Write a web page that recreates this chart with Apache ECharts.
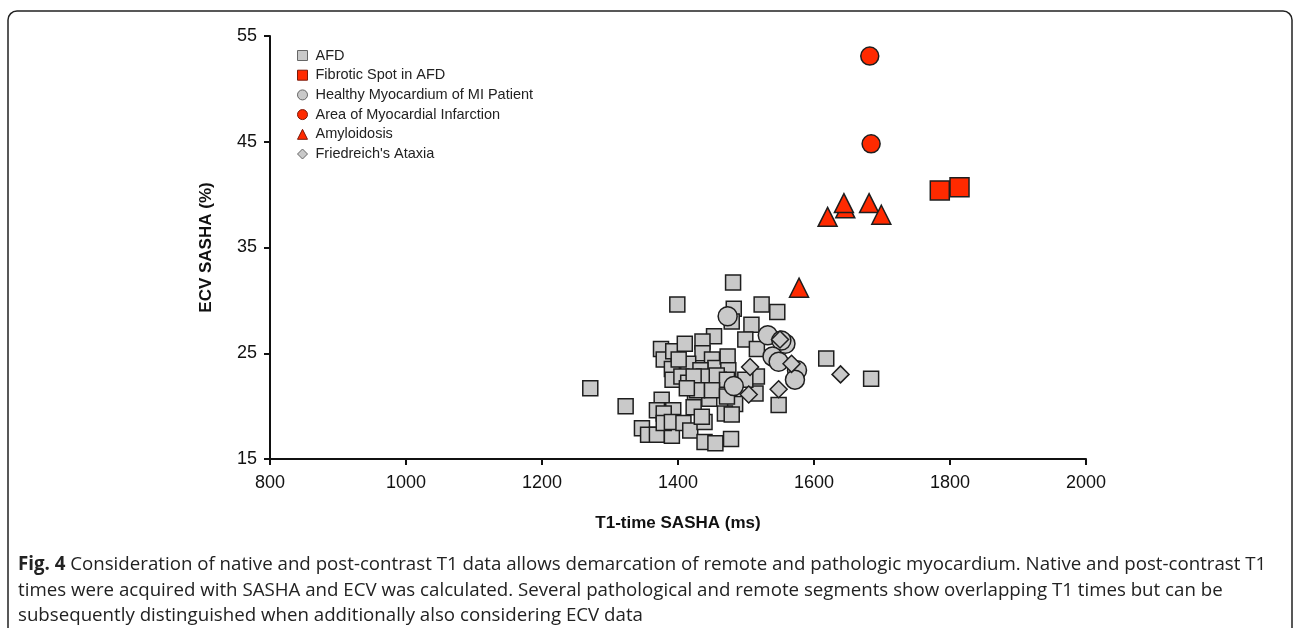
<!DOCTYPE html>
<html><head><meta charset="utf-8">
<script src="https://cdn.jsdelivr.net/npm/echarts@6/dist/echarts.min.js"></script>
<style>html,body{margin:0;padding:0;background:#fff}#c{width:1293px;height:628px}</style>
</head><body><div id="c"></div>
<script>
// ---- data (T1 ms, ECV %) ----
const afd = [
 [1481,31.7],[1399,29.6],[1482,29.2],[1523,29.6],[1546,28.9],[1479,28.0],[1508,27.7],
 [1453,26.6],[1499,26.3],[1516,25.4],[1618,24.5],[1684,22.6],[1516,22.8],[1514,21.2],
 [1271,21.7],[1323,20.0],[1548,20.1],[1375,25.4],[1379,24.4],[1393,25.2],[1410,25.9],
 [1436,26.1],[1436,25.0],[1415,24.0],[1391,23.5],[1392,22.5],[1405,22.8],[1415,22.2],
 [1450,24.4],[1455,23.6],[1473,24.7],[1474,23.4],[1445,22.2],[1425,21.1],[1446,20.7],
 [1423,19.9],[1460,22.5],[1484,20.2],[1469,19.3],[1479,19.2],[1376,20.6],[1369,19.6],
 [1393,19.6],[1379,19.3],[1347,17.9],[1356,17.3],[1369,17.3],[1391,17.2],[1379,18.4],
 [1391,18.5],[1408,18.4],[1418,17.7],[1439,18.5],[1435,19.0],[1439,16.6],[1455,16.5],
 [1478,16.9],[1401,24.4],[1433,23.4],[1438,22.8],[1423,22.8],[1457,22.9],[1472,22.5],
 [1428,21.5],[1413,21.7],[1450,21.5],[1499,22.5],[1472,20.9]
];
const fibroticSpot = [[1785,40.4],[1814,40.7]];
const healthyMI = [[1473,28.5],[1532,26.7],[1558,25.9],[1552,26.2],[1539,24.7],[1548,24.2],[1575,23.4],[1572,22.5],[1482,21.9]];
const infarction = [[1682,53.1],[1684,44.8]];
const amyloidosis = [[1646,38.7],[1644,39.2],[1620,37.9],[1681,39.2],[1699,38.1],[1578,31.2]];
const friedreich = [[1550,26.3],[1506,23.7],[1567,24.0],[1548,21.6],[1504,21.1],[1639,23.0]];
const seriesNames = ['AFD','Fibrotic Spot in AFD','Healthy Myocardium of MI Patient','Area of Myocardial Infarction','Amyloidosis',"Friedreich's Ataxia"];
const xTicks = [800,1000,1200,1400,1600,1800,2000];
const yTicks = [15,25,35,45,55];
const captionLines = [
 'Consideration of native and post-contrast T1 data allows demarcation of remote and pathologic myocardium. Native and post-contrast T1',
 'times were acquired with SASHA and ECV was calculated. Several pathological and remote segments show overlapping T1 times but can be',
 'subsequently distinguished when additionally also considering ECV data'
];

const GRAY = '#c9c9c9', RED = '#ff2a00', EDGE = '#1e1e1e';
const font = "'Liberation Sans', Arial, sans-serif";
const capFont = "'Open Sans', sans-serif";
const capSize = 18.7;

function mk(name, data, symbol, size, color) {
  return {
    name, type: 'scatter', data, symbol, symbolSize: size,
    itemStyle: { color, borderColor: EDGE, borderWidth: 1.5, opacity: 1 },
    emphasis: { disabled: true }, animation: false
  };
}
const legendBorder = ['#666', '#7a1a0a', '#666', '#7a1a0a', '#7a1a0a', '#666'];

const chart = echarts.init(document.getElementById('c'), null, { renderer: 'canvas' });
chart.setOption({
  animation: false,
  grid: { left: 270, right: 207, top: 36, bottom: 169, containLabel: false },
  xAxis: {
    type: 'value', min: xTicks[0], max: xTicks[xTicks.length - 1], interval: 200,
    name: 'T1-time SASHA (ms)', nameLocation: 'middle', nameGap: 56,
    nameTextStyle: { fontFamily: font, fontSize: 17, fontWeight: 'bold', color: '#111' },
    axisLine: { lineStyle: { color: '#111', width: 2 } },
    axisTick: { show: true, length: 6, lineStyle: { color: '#111', width: 2 } },
    axisLabel: { fontFamily: font, fontSize: 18, color: '#111', margin: 15, formatter: v => String(v) },
    splitLine: { show: false }
  },
  yAxis: {
    type: 'value', min: yTicks[0], max: yTicks[yTicks.length - 1], interval: 10,
    name: 'ECV SASHA (%)', nameLocation: 'middle', nameGap: 55,
    nameTextStyle: { fontFamily: font, fontSize: 17, fontWeight: 'bold', color: '#111' },
    axisLine: { show: true, lineStyle: { color: '#111', width: 2 } },
    axisTick: { show: true, length: 6, lineStyle: { color: '#111', width: 2 } },
    axisLabel: { fontFamily: font, fontSize: 18, color: '#111', margin: 13, formatter: v => String(v) },
    splitLine: { show: false }
  },
  legend: {
    orient: 'vertical', left: 292, top: 43, itemWidth: 10, itemHeight: 10, itemGap: 4.7,
    textStyle: { fontFamily: font, fontSize: 14.5, color: '#222', lineHeight: 15, padding: [0, 0, 0, 3] },
    data: seriesNames.map((n, i) => ({ name: n, itemStyle: { borderColor: legendBorder[i], borderWidth: 1 } }))
  },
  series: [
    mk(seriesNames[0], afd, 'rect', 15, GRAY),
    mk(seriesNames[1], fibroticSpot, 'rect', 19, RED),
    mk(seriesNames[2], healthyMI, 'circle', 19, GRAY),
    mk(seriesNames[3], infarction, 'circle', 18, RED),
    mk(seriesNames[4], amyloidosis, 'triangle', 19, RED),
    mk(seriesNames[5], friedreich, 'diamond', 17, GRAY)
  ],
  graphic: [
    { type: 'rect', shape: { x: 8, y: 11, width: 1284, height: 640, r: 9 },
      style: { fill: 'none', stroke: '#222', lineWidth: 1.5 }, silent: true },
    { type: 'text', left: 18, top: 555,
      style: { text: '{b|Fig. 4} ' + captionLines[0],
        rich: { b: { fontFamily: capFont, fontSize: capSize, fontWeight: 'bold', fill: '#222' } },
        fontFamily: capFont, fontSize: capSize, fill: '#222' } },
    { type: 'text', left: 18, top: 581,
      style: { text: captionLines[1], fontFamily: capFont, fontSize: capSize, fill: '#222' } },
    { type: 'text', left: 18, top: 606,
      style: { text: captionLines[2], fontFamily: capFont, fontSize: capSize, fill: '#222' } }
  ]
});
</script></body></html>
